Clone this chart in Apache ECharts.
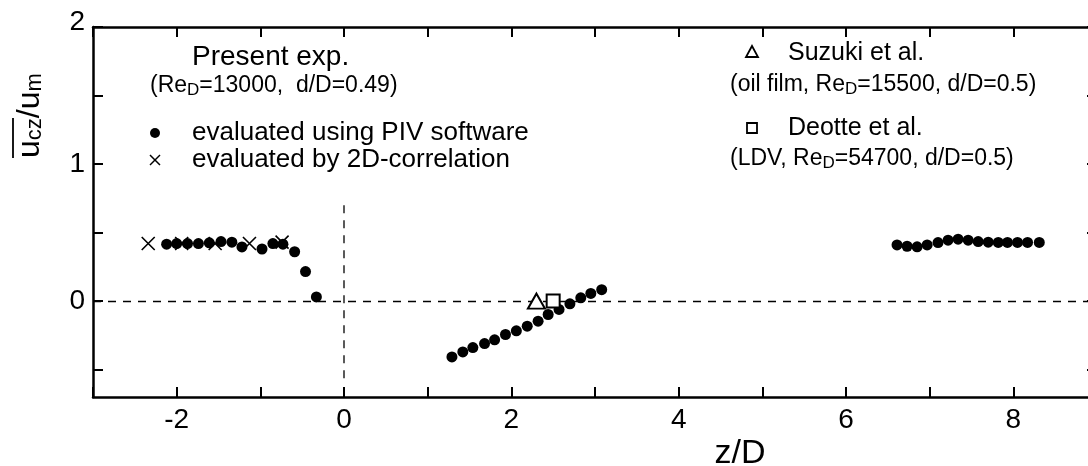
<!DOCTYPE html>
<html>
<head>
<meta charset="utf-8">
<script src="https://cdn.jsdelivr.net/npm/echarts@6/dist/echarts.min.js"></script>
<style>
  html, body { margin: 0; padding: 0; background: #fff; overflow: hidden; }
  #chart { width: 1100px; height: 466px; }
</style>
</head>
<body>
<div id="chart"></div>
<script>
// Centreline axial velocity along the cylinder axis
const pivZ = [-2.12, -2.0, -1.87, -1.74, -1.61, -1.47, -1.34, -1.22, -0.98, -0.85, -0.73, -0.59, -0.46, -0.33,
  1.29, 1.42, 1.54, 1.68, 1.80, 1.93, 2.06, 2.19, 2.32, 2.44, 2.57, 2.70, 2.83, 2.95, 3.08,
  6.61, 6.73, 6.85, 6.97, 7.10, 7.22, 7.34, 7.46, 7.58, 7.70, 7.82, 7.93, 8.05, 8.17, 8.31];
const pivU = [0.415, 0.42, 0.42, 0.42, 0.425, 0.434, 0.43, 0.395, 0.38, 0.42, 0.415, 0.36, 0.215, 0.03,
  -0.408, -0.371, -0.339, -0.31, -0.283, -0.244, -0.217, -0.183, -0.147, -0.098, -0.061, -0.02, 0.024, 0.056, 0.083,
  0.41, 0.40, 0.396, 0.41, 0.427, 0.444, 0.452, 0.444, 0.434, 0.43, 0.428, 0.428, 0.428, 0.428, 0.428];
const corrZ = [-2.34, -1.94, -1.54, -1.13, -0.74];
const corrU = [0.42, 0.42, 0.42, 0.42, 0.43];
const suzukiZ = [2.30];
const suzukiU = [0.0];
const deotteZ = [2.50];
const deotteU = [0.0];
// guide line marking z/D = 0
const guideZ = [0, 0];
const guideU = [0.70, -0.57];

const xTickLabels = [-2, 0, 2, 4, 6, 8];
const yTickValues = [-0.5, 0, 0.5, 1, 1.5, 2];
const yTickLabels = [0, 1, 2];

const FONT = '"Liberation Sans", Arial, sans-serif';
const pairs = (a, b) => a.map((v, i) => [v, b[i]]);

const chart = echarts.init(document.getElementById('chart'), null, { renderer: 'canvas' });

const axisLine = { show: true, onZero: false, lineStyle: { color: '#000', width: 2.5 } };
const tickIn = { show: true, inside: true, length: 10, lineStyle: { color: '#000', width: 2 } };

const subRich = {
  n: { fontSize: 23, fontFamily: FONT, color: '#000' },
  s: { fontSize: 17, fontFamily: FONT, color: '#000', padding: [8, 0, 0, 0] }
};

function txt(x, y, text, size, extra) {
  return Object.assign({
    type: 'text', x: x, y: y,
    style: { text: text, fontSize: size, fontFamily: FONT, fill: '#000', verticalAlign: 'middle' }
  }, extra || {});
}

const option = {
  animation: false,
  backgroundColor: '#fff',
  grid: { left: 93, right: 3, top: 27, bottom: 69, containLabel: false, outerBoundsMode: 'none' },
  xAxis: [{
    type: 'value', min: -3, max: 9, interval: 1, position: 'bottom',
    axisLine: axisLine, axisTick: tickIn, splitLine: { show: false },
    axisLabel: {
      customValues: xTickLabels, color: '#000', fontSize: 28, fontFamily: FONT, margin: 9
    }
  }, {
    type: 'value', min: -3, max: 9, interval: 1, position: 'top',
    axisLine: axisLine, axisTick: tickIn, splitLine: { show: false }, axisLabel: { show: false }
  }],
  yAxis: [{
    type: 'value', min: -0.7, max: 2, position: 'left',
    axisLine: axisLine,
    axisTick: Object.assign({ customValues: yTickValues }, tickIn),
    splitLine: { show: false },
    axisLabel: {
      customValues: yTickLabels, color: '#000', fontSize: 28, fontFamily: FONT, margin: 8,
      // the top label sits just above the frame corner
      formatter: v => (v === 2 ? '{top|2}' : String(v)),
      rich: { top: { fontSize: 28, fontFamily: FONT, color: '#000', padding: [0, 0, 10, 0] } }
    }
  }, {
    type: 'value', min: -0.7, max: 2, position: 'right',
    axisLine: axisLine,
    axisTick: Object.assign({ customValues: yTickValues }, tickIn),
    splitLine: { show: false }, axisLabel: { show: false }
  }],
  series: [{
    name: 'zero guide', type: 'line', data: pairs(guideZ, guideU), symbol: 'none', silent: true,
    lineStyle: { color: '#000', width: 1.3, type: [8, 7] }, z: 1
  }, {
    name: 'evaluated using PIV software', type: 'scatter', data: pairs(pivZ, pivU),
    symbol: 'circle', symbolSize: 11, itemStyle: { color: '#000', opacity: 1 }, z: 3,
    markLine: {
      silent: true, symbol: 'none', label: { show: false },
      lineStyle: { color: '#000', width: 1.3, type: [8, 7] },
      data: [{ yAxis: 0 }]
    }
  }, {
    name: 'evaluated by 2D-correlation', type: 'scatter', data: pairs(corrZ, corrU),
    symbol: 'path://M0,0L10,10M10,0L0,10', symbolSize: 13,
    itemStyle: { color: 'none', borderColor: '#000', borderWidth: 1.6, opacity: 1 }, z: 4
  }, {
    name: 'Suzuki et al.', type: 'scatter', data: pairs(suzukiZ, suzukiU),
    symbol: 'triangle', symbolSize: [17, 15],
    itemStyle: { color: '#fff', borderColor: '#000', borderWidth: 2, opacity: 1 }, z: 5
  }, {
    name: 'Deotte et al.', type: 'scatter', data: pairs(deotteZ, deotteU),
    symbol: 'rect', symbolSize: 13,
    itemStyle: { color: '#fff', borderColor: '#000', borderWidth: 2, opacity: 1 }, z: 5
  }],
  graphic: [
    // y-axis title, rotated, with overline on u_cz
    {
      type: 'group', x: 30, y: 158, rotation: Math.PI / 2,
      children: [{
        type: 'text', x: 0, y: 0,
        style: {
          text: '{u|u}{s|cz}{u|/u}{s|m}', verticalAlign: 'middle',
          rich: {
            u: { fontSize: 32, fontFamily: FONT, color: '#000' },
            s: { fontSize: 22, fontFamily: FONT, color: '#000', padding: [10, 0, 0, 0] }
          }
        }
      }, {
        type: 'line', shape: { x1: 0, y1: -17, x2: 40, y2: -17 },
        style: { stroke: '#000', lineWidth: 1.8 }
      }]
    },
    // x-axis title
    txt(740, 454, 'z/D', 34, { style: { text: 'z/D', fontSize: 34, fontFamily: FONT, fill: '#000', verticalAlign: 'middle', align: 'center' } }),
    txt(192, 57, 'Present exp.', 28),
    { type: 'text', x: 150, y: 86, style: { text: '{n|(Re}{s|D}{n|=13000,  d/D=0.49)}', rich: subRich, verticalAlign: 'middle' } },
    { type: 'circle', shape: { cx: 155, cy: 133, r: 5 }, style: { fill: '#000' } },
    txt(192, 133, 'evaluated using PIV software', 26),
    { type: 'group', x: 150, y: 155, children: [
      { type: 'line', shape: { x1: 0, y1: 0, x2: 10, y2: 10 }, style: { stroke: '#000', lineWidth: 1.5 } },
      { type: 'line', shape: { x1: 10, y1: 0, x2: 0, y2: 10 }, style: { stroke: '#000', lineWidth: 1.5 } }
    ] },
    txt(192, 160, 'evaluated by 2D-correlation', 26),
    { type: 'polygon', shape: { points: [[752, 46], [758, 57], [746, 57]] }, style: { fill: '#fff', stroke: '#000', lineWidth: 1.8 } },
    txt(788, 53, 'Suzuki et al.', 25),
    { type: 'text', x: 730, y: 85, style: { text: '{n|(oil film, Re}{s|D}{n|=15500, d/D=0.5)}', rich: subRich, verticalAlign: 'middle' } },
    { type: 'rect', shape: { x: 747, y: 123, width: 10, height: 10 }, style: { fill: '#fff', stroke: '#000', lineWidth: 1.8 } },
    txt(788, 128, 'Deotte et al.', 25),
    { type: 'text', x: 730, y: 159, style: { text: '{n|(LDV, Re}{s|D}{n|=54700, d/D=0.5)}', rich: subRich, verticalAlign: 'middle' } }
  ]
};

chart.setOption(option);
</script>
</body>
</html>
